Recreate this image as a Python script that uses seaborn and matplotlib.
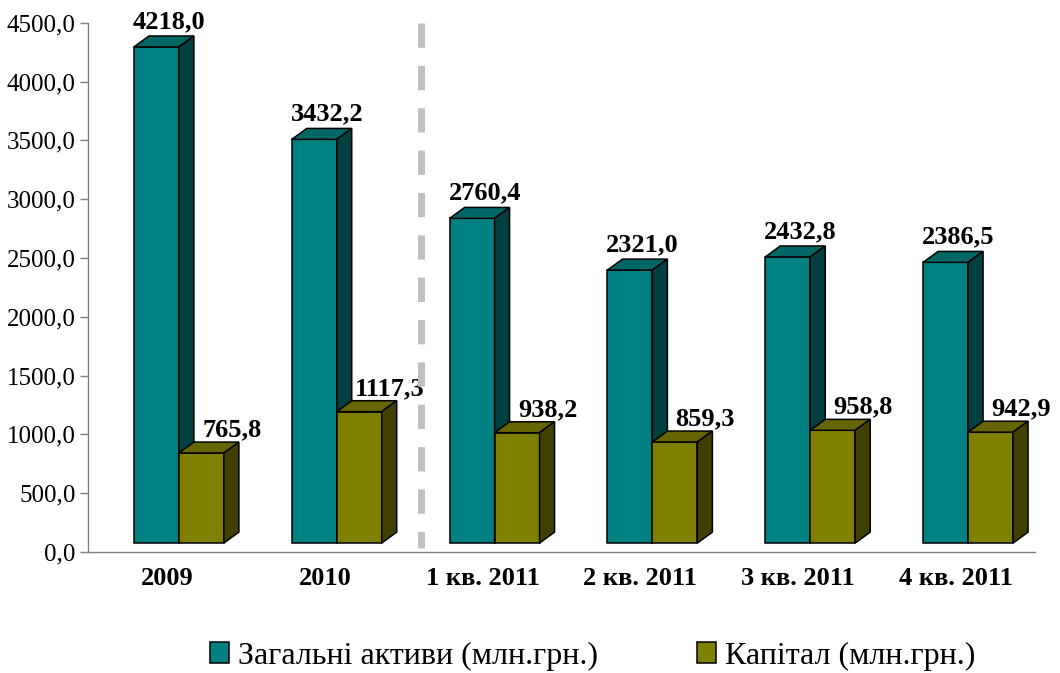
import numpy as np
import pandas as pd
import matplotlib
matplotlib.use("Agg")
import matplotlib.pyplot as plt
import seaborn as sns
from matplotlib.patches import Patch

# dane
periods = ['2009', '2010', '1 кв. 2011', '2 кв. 2011', '3 кв. 2011', '4 кв. 2011']
assets = [4218.0, 3432.2, 2760.4, 2321.0, 2432.8, 2386.5]
capital = [765.8, 1117.3, 938.2, 859.3, 958.8, 942.9]
series_names = ['Загальні активи (млн.грн.)', 'Капітал (млн.грн.)']
y_ticks = [0, 500, 1000, 1500, 2000, 2500, 3000, 3500, 4000, 4500]

df = pd.DataFrame({
    'period': periods * 2,
    'value': assets + capital,
    'series': [series_names[0]] * len(periods) + [series_names[1]] * len(periods),
})

# kolory: przód, góra, bok
teal = ['#008080', '#006666', '#004040']
olive = ['#808000', '#666600', '#404000']

sns.set_style('white')
plt.rcParams['font.family'] = ['Liberation Serif', 'DejaVu Serif']
plt.rcParams['text.color'] = 'black'
plt.rcParams['xtick.color'] = 'black'
plt.rcParams['ytick.color'] = 'black'

fig = plt.figure(figsize=(10.6, 6.73), dpi=100)
ax = fig.add_axes([88 / 1060, 1 - 552 / 673, (1035 - 88) / 1060, (552 - 22.7) / 673])

sns.barplot(data=df, x='period', y='value', hue='series', palette=[teal[0], olive[0]],
            width=0.57, saturation=1, edgecolor='black', linewidth=1.1,
            legend=False, ax=ax)

ax.set_xlim(-0.5, 5.5)
ax.set_ylim(0, 4500)

# efekt 3D
shift = 0.076   # przesunięcie słupków w prawo
lift = 76       # przód podniesiony nad osią
dx = 0.095      # głębokość w poziomie
dy = 93         # głębokość w pionie

for k, (cont, cols) in enumerate(zip(ax.containers, [teal, olive])):
    z = 2 + k
    for bar in cont:
        bar.set_x(bar.get_x() + shift)
        bar.set_y(lift)
        bar.set_zorder(z)
        x0 = bar.get_x()
        x1 = x0 + bar.get_width()
        top = lift + bar.get_height()
        ax.fill([x0, x1, x1 + dx, x0 + dx], [top, top, top + dy, top + dy],
                facecolor=cols[1], edgecolor='black', linewidth=1.1, zorder=z + 0.1)
        ax.fill([x1, x1 + dx, x1 + dx, x1], [lift, lift + dy, top + dy, top],
                facecolor=cols[2], edgecolor='black', linewidth=1.1, zorder=z + 0.1)
        txt = f"{bar.get_height():.1f}".replace('.', ',')
        if k == 0:
            ax.text((x0 + x1) / 2 + 0.08, top + dy + 68, txt, ha='center', va='baseline',
                    fontsize=19, fontweight='bold', zorder=6, clip_on=False)
        else:
            ax.text(x1 + 0.05, top + dy + 50, txt, ha='center', va='baseline',
                    fontsize=19, fontweight='bold', zorder=6, clip_on=False)

# linia przerywana między latami a kwartałami
ax.plot([1.608, 1.608], [4500, 35], color='#c0c0c0', linewidth=5,
        linestyle=(0, (3.5, 2.6)), zorder=7, clip_on=False)

# osie
ax.set_yticks(y_ticks)
ax.set_yticklabels([f"{v:.1f}".replace('.', ',') for v in y_ticks], fontsize=18)
ax.set_xticks(range(len(periods)))
ax.set_xticklabels(periods, fontsize=19, fontweight='bold')
ax.set_xticks(np.arange(-0.5, 6, 1), minor=True)
ax.tick_params(axis='x', which='major', length=0, pad=11)
ax.tick_params(axis='x', which='minor', length=6, width=1, color='#808080', direction='out')
ax.tick_params(axis='y', length=6, width=1, color='#808080', direction='out', pad=3, left=True)
ax.set_xlabel('')
ax.set_ylabel('')

for s in ['top', 'right']:
    ax.spines[s].set_visible(False)
for s in ['left', 'bottom']:
    ax.spines[s].set_color('#808080')
    ax.spines[s].set_linewidth(1)

handles = [Patch(facecolor=teal[0], edgecolor='black', linewidth=1.1),
           Patch(facecolor=olive[0], edgecolor='black', linewidth=1.1)]
fig.legend(handles, series_names, loc='center', bbox_to_anchor=(0.559, 0.025), ncol=2,
           frameon=False, fontsize=23, handlelength=0.6, handleheight=0.6,
           handletextpad=0.28, columnspacing=3.1)

fig.savefig('out.png', dpi=100)
